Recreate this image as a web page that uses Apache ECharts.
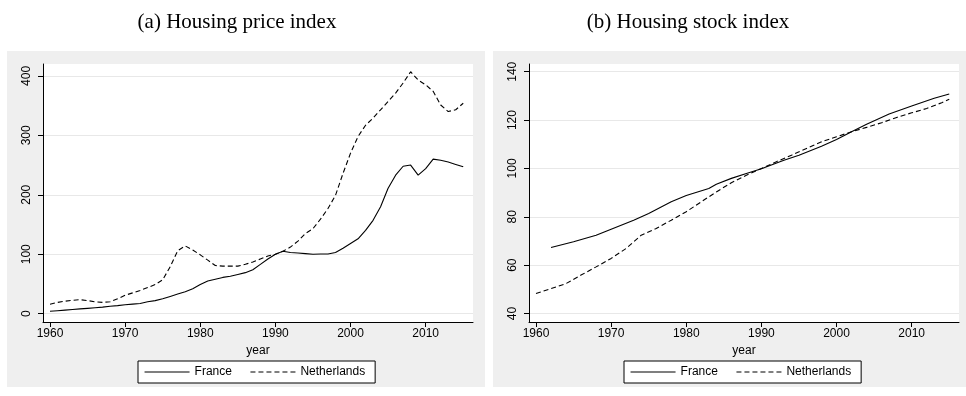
<!DOCTYPE html>
<html>
<head>
<meta charset="utf-8">
<script src="https://cdn.jsdelivr.net/npm/echarts@6/dist/echarts.min.js"></script>
<style>html,body{margin:0;padding:0;background:#fff}#c{width:966px;height:396px}</style>
</head>
<body>
<div id="c"></div>
<script>
// Panel (a): housing price index, annual 1960-2015
const priceYears = [];
for (let y = 1960; y <= 2015; y++) priceYears.push(y);
const priceFrance = [4,5,6,7,8,9,10,11,12.5,13.5,15,16,17,20,22,25,29,33,37,42,49,55,58,61,63,66,69,74,83,92,100,105,103,102,101,100,100.5,100.5,103,110,118,126,140,157,180,211,233,248,250,233,244,260,258,255,251,247];
const priceNetherlands = [16,19,21,22.5,23.5,22,20,19,20,25,31,35,39,44,49,57,79,106,114,107,99,90,81,80,80,80,83,87,92,97,100,105,112,122,135,143,159,177,199,236,270,298,317,329,343,357,371,388,407,393,385,374,351,340,343,354];

// Panel (b): housing stock index
const stockFranceYears = [1962,1965,1968,1970,1973,1975,1978,1980,1983,1984,1986,1988,1990,1993,1995,1998,2000,2002,2004,2007,2010,2013,2015];
const stockFrance = [67.3,69.7,72.4,74.9,78.6,81.4,86.2,88.8,91.7,93.5,95.9,97.9,99.9,103.4,105.5,109.2,112,115.2,118.3,122.5,125.8,129,130.8];
const stockNLYears = [1960,1962,1964,1966,1968,1970,1972,1974,1976,1978,1980,1982,1984,1986,1988,1990,1992,1994,1996,1998,2000,2002,2004,2006,2008,2010,2012,2014,2015];
const stockNetherlands = [48.3,50.3,52.4,55.9,59.3,62.8,66.9,72.4,75.2,78.6,82.1,86.2,90.3,94.1,97.2,100,102.8,105.5,108.3,111,113.1,115.2,117,118.9,121.1,123,124.8,127.2,128.6];

const xTicks = [1960,1970,1980,1990,2000,2010];
const priceTicks = [0,100,200,300,400];
const stockTicks = [40,60,80,100,120,140];
const titles = ['(a) Housing price index','(b) Housing stock index'];
const seriesNames = ['France','Netherlands'];

const pair = (xs, ys) => xs.map((x,i) => [x, ys[i]]);
const font = 'Liberation Sans, Arial, sans-serif';

function xAxis(gi){
  return {
    type:'value', gridIndex:gi, min:1959.07, max:2016.3,
    name:'year', nameLocation:'middle', nameGap:16,
    nameTextStyle:{color:'#000', fontSize:12, fontFamily:font},
    axisLine:{show:true, onZero:false, lineStyle:{color:'#000', width:1}},
    axisTick:{show:true, length:5, customValues:xTicks, lineStyle:{color:'#000'}},
    axisLabel:{customValues:xTicks, color:'#000', fontSize:12, fontFamily:font, margin:6, formatter:v=>String(v)},
    splitLine:{show:false}
  };
}
function yAxis(gi, min, max, ticks){
  return {
    type:'value', gridIndex:gi, min:min, max:max,
    axisLine:{show:true, onZero:false, lineStyle:{color:'#000', width:1}},
    axisTick:{show:true, length:5, customValues:ticks, lineStyle:{color:'#000'}},
    axisLabel:{customValues:ticks, rotate:90, color:'#000', fontSize:12, fontFamily:font, margin:10, formatter:v=>String(v)},
    splitLine:{show:true, lineStyle:{color:'#e8e8e8', width:1}}
  };
}
function line(name, data, gi, dashed){
  return {
    type:'line', name:name, xAxisIndex:gi, yAxisIndex:gi, data:data,
    showSymbol:false, symbol:'none', smooth:false, animation:false,
    lineStyle:{color:'#000', width:1.1, type: dashed ? [5,3] : 'solid'},
    itemStyle:{color:'#000'}
  };
}
function legend(left){
  return {
    left:left, top:361, orient:'horizontal',
    data:seriesNames, itemWidth:45, itemHeight:10, itemGap:18,
    backgroundColor:'#fff', borderColor:'#000', borderWidth:1, borderRadius:0,
    padding:[5,10,5,6],
    itemStyle:{opacity:0, color:'transparent', borderWidth:0},
    lineStyle:{width:1.1},
    textStyle:{color:'#000', fontSize:12, fontFamily:font},
    selectedMode:false
  };
}

const chart = echarts.init(document.getElementById('c'), null, {renderer:'canvas'});
chart.setOption({
  animation:false,
  backgroundColor:'#fff',
  graphic:[
    {type:'rect', shape:{x:7,y:51,width:478,height:336}, style:{fill:'#efefef'}, z:-10},
    {type:'rect', shape:{x:493,y:51,width:473,height:336}, style:{fill:'#efefef'}, z:-10}
  ],
  title:[
    {text:titles[0], left:232, top:7, textAlign:'center', textStyle:{fontFamily:'Liberation Serif, serif', fontWeight:'normal', fontSize:21, color:'#000'}},
    {text:titles[1], left:683, top:7, textAlign:'center', textStyle:{fontFamily:'Liberation Serif, serif', fontWeight:'normal', fontSize:21, color:'#000'}}
  ],
  grid:[
    {left:43, top:64, width:430, height:258, show:true, backgroundColor:'#fff', borderWidth:0},
    {left:529, top:64, width:430, height:258, show:true, backgroundColor:'#fff', borderWidth:0}
  ],
  xAxis:[xAxis(0), xAxis(1)],
  yAxis:[yAxis(0,-14,420,priceTicks), yAxis(1,36.5,143.2,stockTicks)],
  legend:[legend(138), legend(624)],
  series:[
    line(seriesNames[0], pair(priceYears, priceFrance), 0, false),
    line(seriesNames[1], pair(priceYears, priceNetherlands), 0, true),
    line(seriesNames[0], pair(stockFranceYears, stockFrance), 1, false),
    line(seriesNames[1], pair(stockNLYears, stockNetherlands), 1, true)
  ]
});
</script>
</body>
</html>
